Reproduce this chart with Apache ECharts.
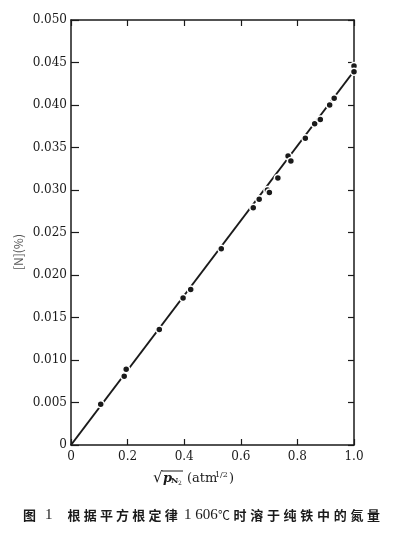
<!DOCTYPE html>
<html>
<head>
<meta charset="utf-8">
<script src="https://cdn.jsdelivr.net/npm/echarts@6/dist/echarts.min.js"></script>
<style>html,body{margin:0;padding:0;background:#fff}#c{width:400px;height:538px}</style>
</head>
<body>
<div id="c"></div>
<script>
// ---- data ----
var sqrtP = [0.105, 0.188, 0.195, 0.312, 0.396, 0.423, 0.531, 0.644, 0.665, 0.694, 0.701, 0.731, 0.767, 0.777, 0.828, 0.861, 0.881, 0.914, 0.930, 1.0, 1.0];
var nPct  = [0.0048, 0.0081, 0.0089, 0.0136, 0.0173, 0.0183, 0.0231, 0.0279, 0.0289, 0.0300, 0.0297, 0.0314, 0.0340, 0.0334, 0.0361, 0.0378, 0.0383, 0.0400, 0.0408, 0.0446, 0.0439];
var fitX = [0, 1.0];
var fitY = [0, 0.0440];
var xTicks = ['0', '0.2', '0.4', '0.6', '0.8', '1.0'];
var yTicks = ['0', '0.005', '0.010', '0.015', '0.020', '0.025', '0.030', '0.035', '0.040', '0.045', '0.050'];
var yName = '[N](%)';
var capFig = '图';
var capNum = '1';
var capA = '根据平方根定律';
var capB = '1 606';
var capDeg = '℃';
var capC = '时溶于纯铁中的氮量';

var serif = '"DejaVu Serif", "Liberation Serif", serif';
var lserif = '"Liberation Serif", serif';
var cjk = '"Noto Sans CJK SC", sans-serif';
var ink = '#1a1a1a';

function pts(xs, ys) { return xs.map(function (x, i) { return [x, ys[i]]; }); }

var graphics = [];
function txt(x, y, s, font, align, fill) {
  graphics.push({ type: 'text', x: x, y: y,
    style: { text: s, font: font, fill: fill || ink, align: align || 'left', verticalAlign: 'middle' } });
}
// y axis name (rotated)
graphics.push({ type: 'text', x: 18, y: 252, rotation: Math.PI / 2,
  style: { text: yName, font: '12px ' + cjk, fill: '#555', align: 'center', verticalAlign: 'middle' } });
// x axis name pieces
txt(153, 478, '√', '15px ' + serif);
graphics.push({ type: 'line', shape: { x1: 162, y1: 471, x2: 183, y2: 471 }, style: { stroke: ink, lineWidth: 1 } });
txt(163, 479, 'p', 'italic bold 13px ' + serif);
txt(171, 481, 'N', 'bold 8px ' + serif);
txt(178, 483, '2', '6px ' + serif);
txt(187, 479, '(atm', '13px ' + serif);
txt(215, 475, '1/2', '8px ' + serif);
txt(229, 479, ')', '13px ' + serif);
// caption
function spaced(str, x0, pitch, yc, font) {
  Array.prototype.forEach.call(str, function (ch, i) { txt(x0 + i * pitch, yc, ch, font, 'center'); });
}
txt(23, 515, capFig, 'bold 13px ' + cjk);
txt(45, 515, capNum, '15px ' + lserif);
spaced(capA, 74, 16.2, 515, 'bold 13px ' + cjk);
txt(184, 515, capB, '15px ' + lserif);
txt(218, 515, capDeg, '12px ' + cjk);
spaced(capC, 240, 16.7, 515, 'bold 13px ' + cjk);

function axisBase(extra) {
  return Object.assign({
    type: 'value',
    axisLine: { show: true, onZero: false, lineStyle: { color: ink, width: 1.5 } },
    axisTick: { show: true, inside: true, length: 6, lineStyle: { color: ink, width: 1.2 } },
    splitLine: { show: false }
  }, extra);
}

var chart = echarts.init(document.getElementById('c'), null, { renderer: 'canvas' });
chart.setOption({
  backgroundColor: '#fff',
  animation: false,
  grid: { left: 71, right: 46, top: 20, bottom: 93, containLabel: false },
  xAxis: [
    axisBase({ position: 'bottom', min: 0, max: 1.0, interval: 0.2,
      axisLabel: { margin: 6, color: ink, fontFamily: serif, fontSize: 12,
        formatter: function (v) { return xTicks[Math.round(v / 0.2)]; } } }),
    axisBase({ position: 'top', min: 0, max: 1.0, interval: 0.2, axisLabel: { show: false } })
  ],
  yAxis: [
    axisBase({ position: 'left', min: 0, max: 0.05, interval: 0.005,
      axisTick: { show: true, inside: true, length: 8, lineStyle: { color: ink, width: 1.2 } },
      axisLabel: { margin: 4, color: ink, fontFamily: serif, fontSize: 12,
        formatter: function (v) { return yTicks[Math.round(v / 0.005)]; } } }),
    axisBase({ position: 'right', min: 0, max: 0.05, interval: 0.005, axisLabel: { show: false } })
  ],
  graphic: graphics,
  series: [
    { type: 'line', data: pts(fitX, fitY), symbol: 'none', lineStyle: { color: ink, width: 2 }, z: 2 },
    { type: 'scatter', data: pts(sqrtP, nPct), symbol: 'circle', symbolSize: 7,
      itemStyle: { color: ink, borderColor: '#fff', borderWidth: 1.5, opacity: 1 }, z: 3 }
  ]
});
</script>
</body>
</html>
